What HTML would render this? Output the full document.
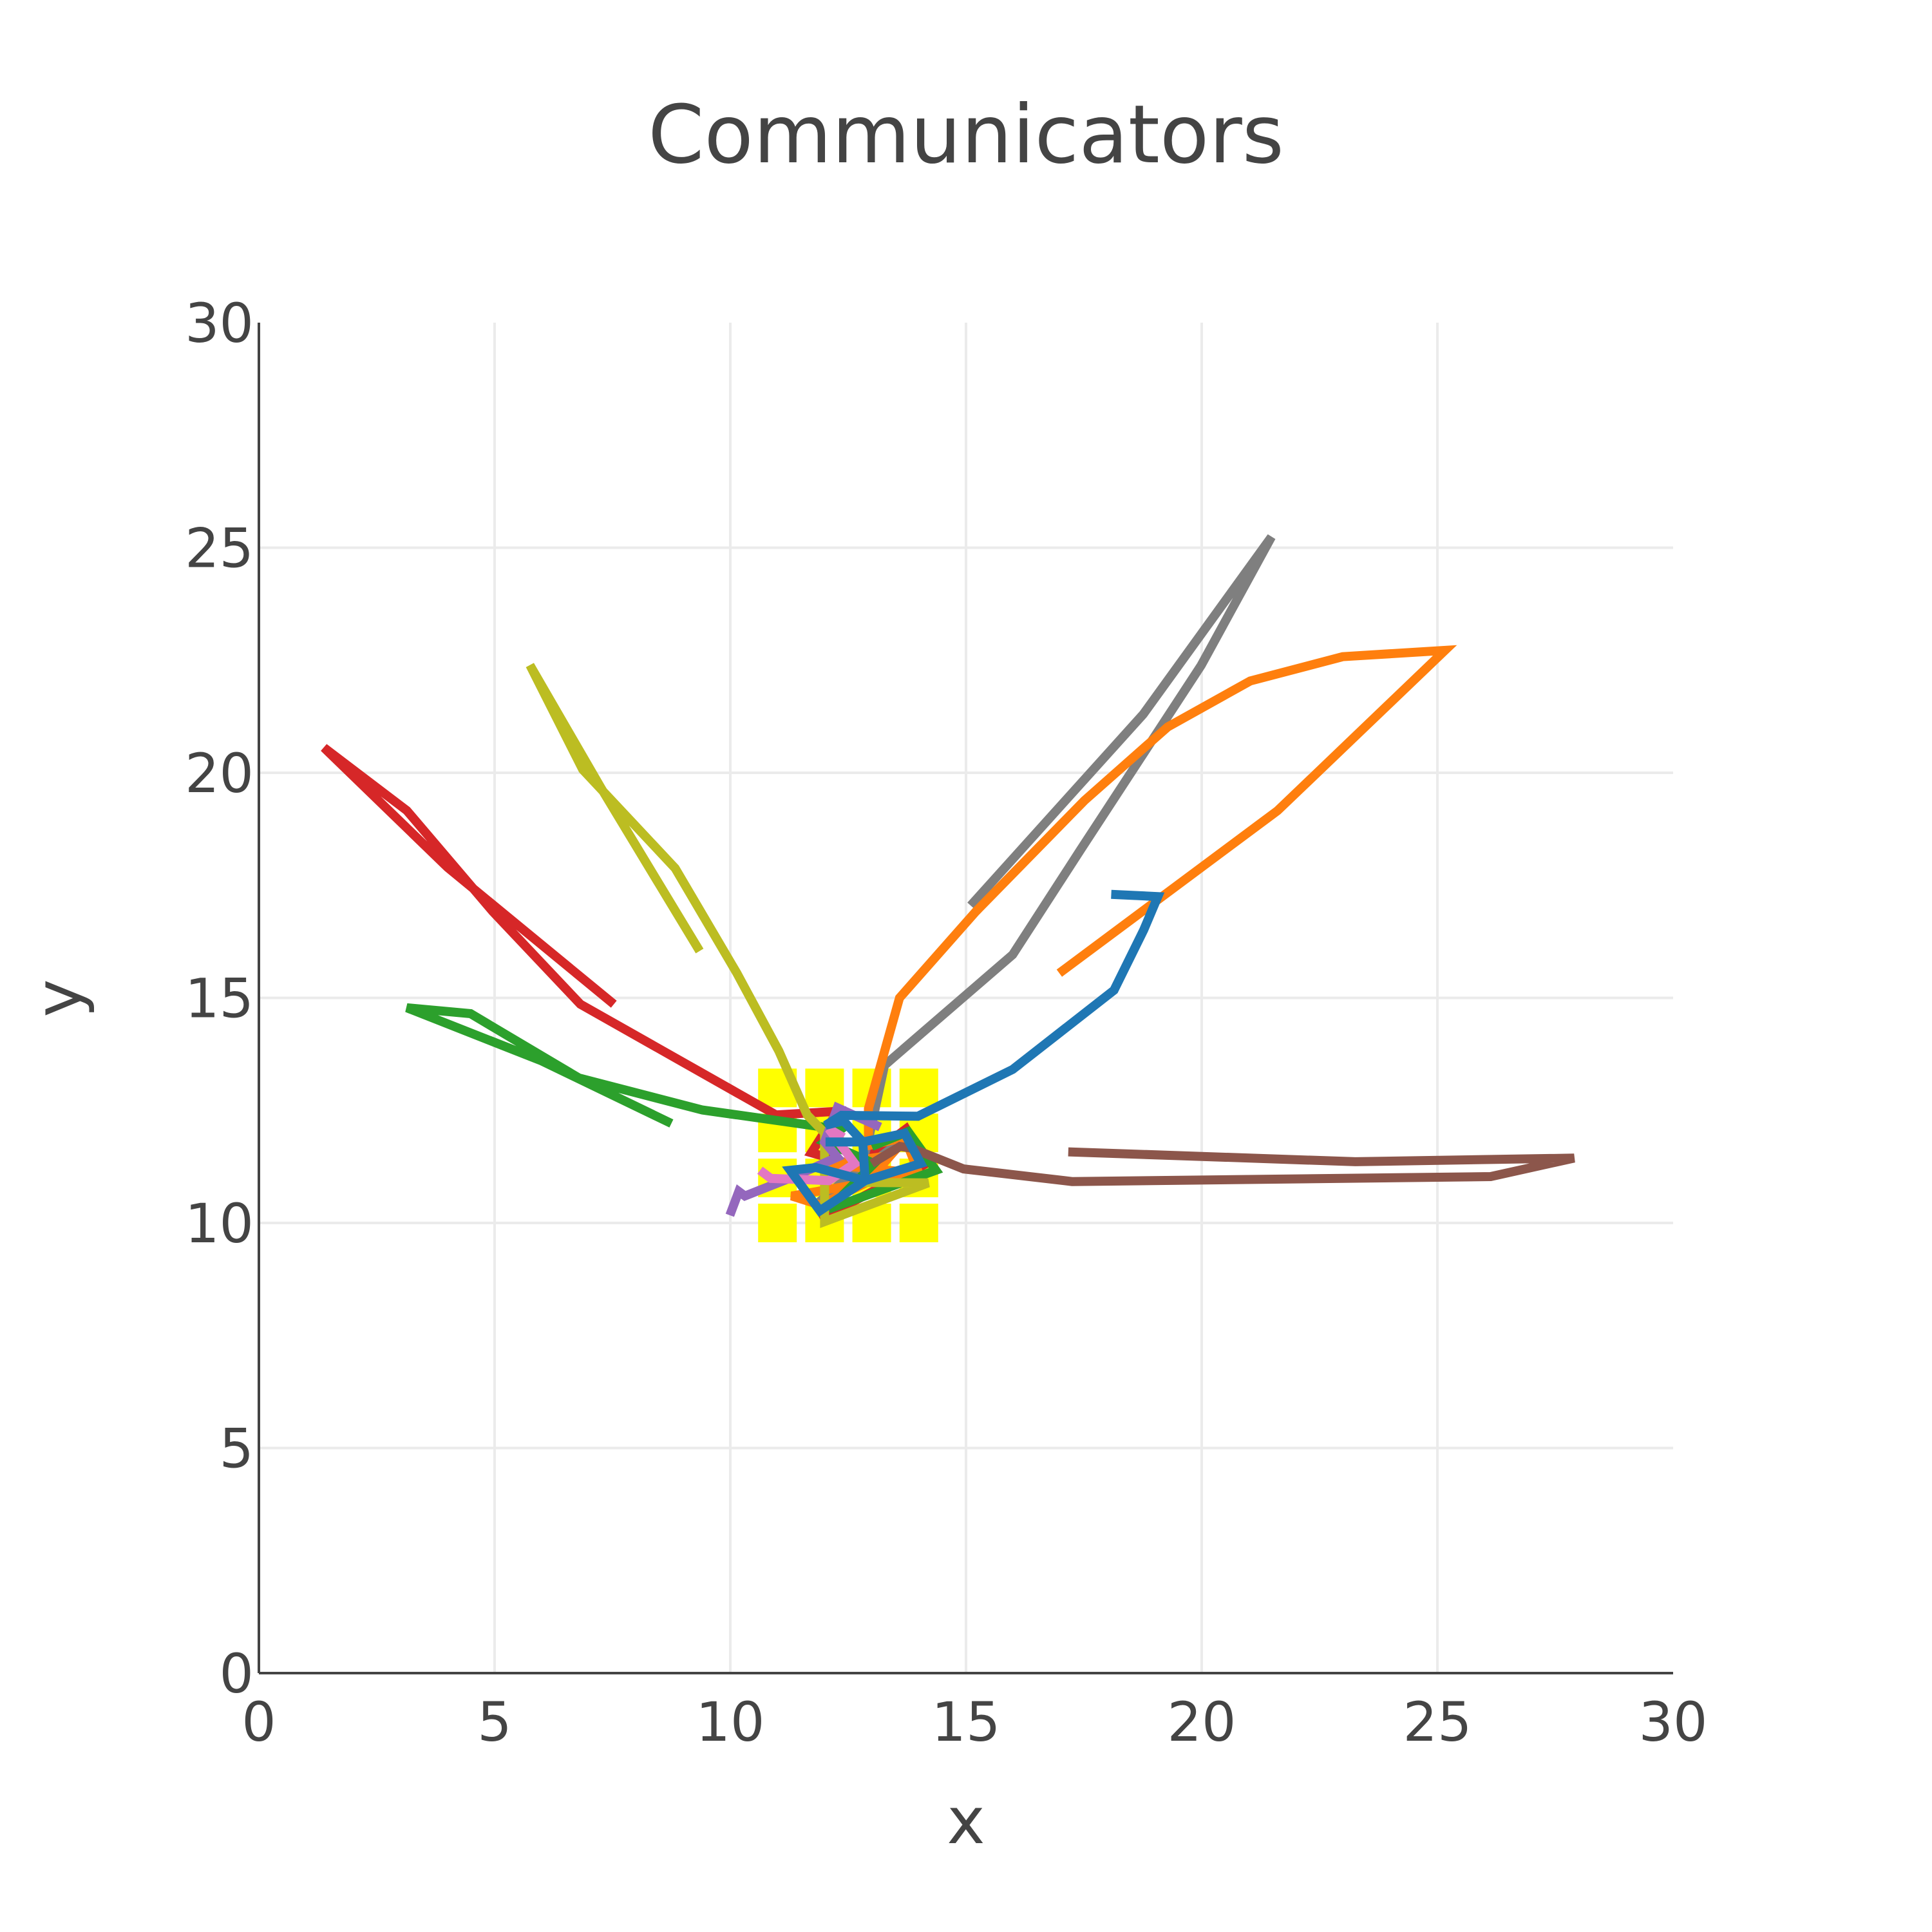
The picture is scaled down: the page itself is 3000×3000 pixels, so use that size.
<!DOCTYPE html>
<html><head><meta charset="utf-8"><style>html,body{margin:0;padding:0;background:#fff}svg{display:block}</style></head>
<body>
<svg id="chart" width="3000" height="3000" xmlns="http://www.w3.org/2000/svg" font-family="'DejaVu Sans','Liberation Sans',sans-serif"></svg>
<script>
const xTicks=[0,5,10,15,20,25,30];
const yTicks=[0,5,10,15,20,25,30];
const markerX=[11,12,13,14];
const markerY=[10,11,12,13];
const sRed={x:[7.53,4.0,1.38,3.14,4.96,6.82,10.97,12.28,11.72,12.68,13.73,14.16,11.9],y:[14.86,17.9,20.56,19.16,16.92,14.86,12.40,12.48,11.56,11.27,12.09,11.32,10.09]};
const sGray={x:[15.1,18.76,21.48,19.99,17.43,15.99,13.27,12.96,12.8,11.76,13.6],y:[17.05,21.3,25.24,22.39,18.29,15.96,13.5,11.99,11.3,10.35,11.8]};
const sOrange={x:[16.98,21.61,25.16,22.99,21.03,19.28,17.51,15.21,13.59,12.93,12.93,13.7,14.0,11.3,11.9,12.9,13.4,12.1,14.0],y:[15.55,19.16,22.72,22.58,22.04,21.02,19.38,16.92,15.0,12.54,11.72,11.9,11.1,10.6,10.4,10.9,11.5,11.3,11.1]};
const sGreen={x:[8.75,6.0,3.14,4.49,6.79,9.41,11.97,12.09,12.5,12.0,13.05,12.09,14.36,13.77,13.0],y:[12.21,13.6,14.78,14.65,13.22,12.51,12.13,12.03,12.2,11.8,11.32,10.31,11.17,12.03,11.7]};
const sOlive={x:[9.35,7.26,5.75,6.87,8.83,10.14,11.03,11.63,12.0,12.0,14.2,12.8],y:[16.04,19.66,22.39,20.07,17.88,15.55,13.82,12.4,12.0,10.03,10.89,10.9]};
const sBrown={x:[17.17,23.26,27.9,26.13,17.25,14.95,13.85,13.6,13.0],y:[11.58,11.36,11.44,11.03,10.92,11.2,11.66,11.7,11.32]};
const sPurple={x:[9.99,10.18,10.31,11.35,12.27,12.0,12.27,13.18],y:[10.17,10.7,10.6,11.03,11.46,11.8,12.56,12.13]};
const sPink={x:[10.63,10.86,12.09,12.64,12.09,12.4],y:[11.17,10.99,10.94,11.32,12.09,11.9]};
const sBlue={x:[18.08,19.07,18.77,18.14,15.99,13.98,12.36,12.02,12.4,12.81,12.86,11.9,11.27,11.82,12.86,14.04,13.7,12.81,12.02],y:[17.30,17.25,16.51,15.17,13.41,12.37,12.39,12.17,12.27,11.8,10.94,10.27,11.17,11.23,10.94,11.32,11.99,11.8,11.8]};
const L=402,R=2598,T=501,B=2598;
const sx=v=>L+(v-0)/30*(R-L);
const sy=v=>B-(v-0)/30*(B-T);
const svg=document.getElementById('chart');
const NS='http://www.w3.org/2000/svg';
function mk(tag,attrs,parent){const e=document.createElementNS(NS,tag);for(const k in attrs)e.setAttribute(k,attrs[k]);(parent||svg).appendChild(e);return e;}
xTicks.forEach(t=>{if(t>0&&t<30){const g=mk('line',{x1:sx(t),x2:sx(t),y1:T,y2:B,stroke:'#ebebeb','stroke-width':4});

}
const lb=mk('text',{x:sx(t),y:B+105,'text-anchor':'middle','font-size':84,fill:'#444'});lb.textContent=t;

});
yTicks.forEach(t=>{if(t>0&&t<30){const g=mk('line',{x1:L,x2:R,y1:sy(t),y2:sy(t),stroke:'#ebebeb','stroke-width':4});

}
const lb=mk('text',{x:L-8,y:sy(t)+30,'text-anchor':'end','font-size':84,fill:'#444'});lb.textContent=t;

});
markerX.forEach(mx=>markerY.forEach(my=>{const r=mk('rect',{x:sx(mx)-30,y:sy(my)-30,width:60,height:60,fill:'#ffff00'});

}));
const series=[['series-red',sRed,'#d62728'],['series-gray',sGray,'#7f7f7f'],['series-orange',sOrange,'#ff7f0e'],['series-green',sGreen,'#2ca02c'],['series-olive',sOlive,'#bcbd22'],['series-brown',sBrown,'#8c564b'],['series-purple',sPurple,'#9467bd'],['series-pink',sPink,'#e377c2'],['series-blue',sBlue,'#1f77b4']];
series.forEach(([n,s,c])=>{const d=s.x.map((v,i)=>(i?'L':'M')+sx(v).toFixed(1)+','+sy(s.y[i]).toFixed(1)).join('');
const p=mk('path',{d:d,fill:'none',stroke:c,'stroke-width':14,'stroke-linejoin':'miter'});

});
const ax=mk('line',{x1:L,x2:R,y1:B,y2:B,stroke:'#444','stroke-width':4});


const ay=mk('line',{x1:L,x2:L,y1:T,y2:B,stroke:'#444','stroke-width':4});


const ti=mk('text',{x:1500,y:252,'text-anchor':'middle','font-size':125,fill:'#444'});ti.textContent='Communicators';


const xt=mk('text',{x:1500,y:2862,'text-anchor':'middle','font-size':100,fill:'#444'});xt.textContent='x';


const yt=mk('text',{x:0,y:0,'text-anchor':'middle','font-size':100,fill:'#444',transform:'translate(125,1550) rotate(-90)'});yt.textContent='y';


</script>
</body></html>
